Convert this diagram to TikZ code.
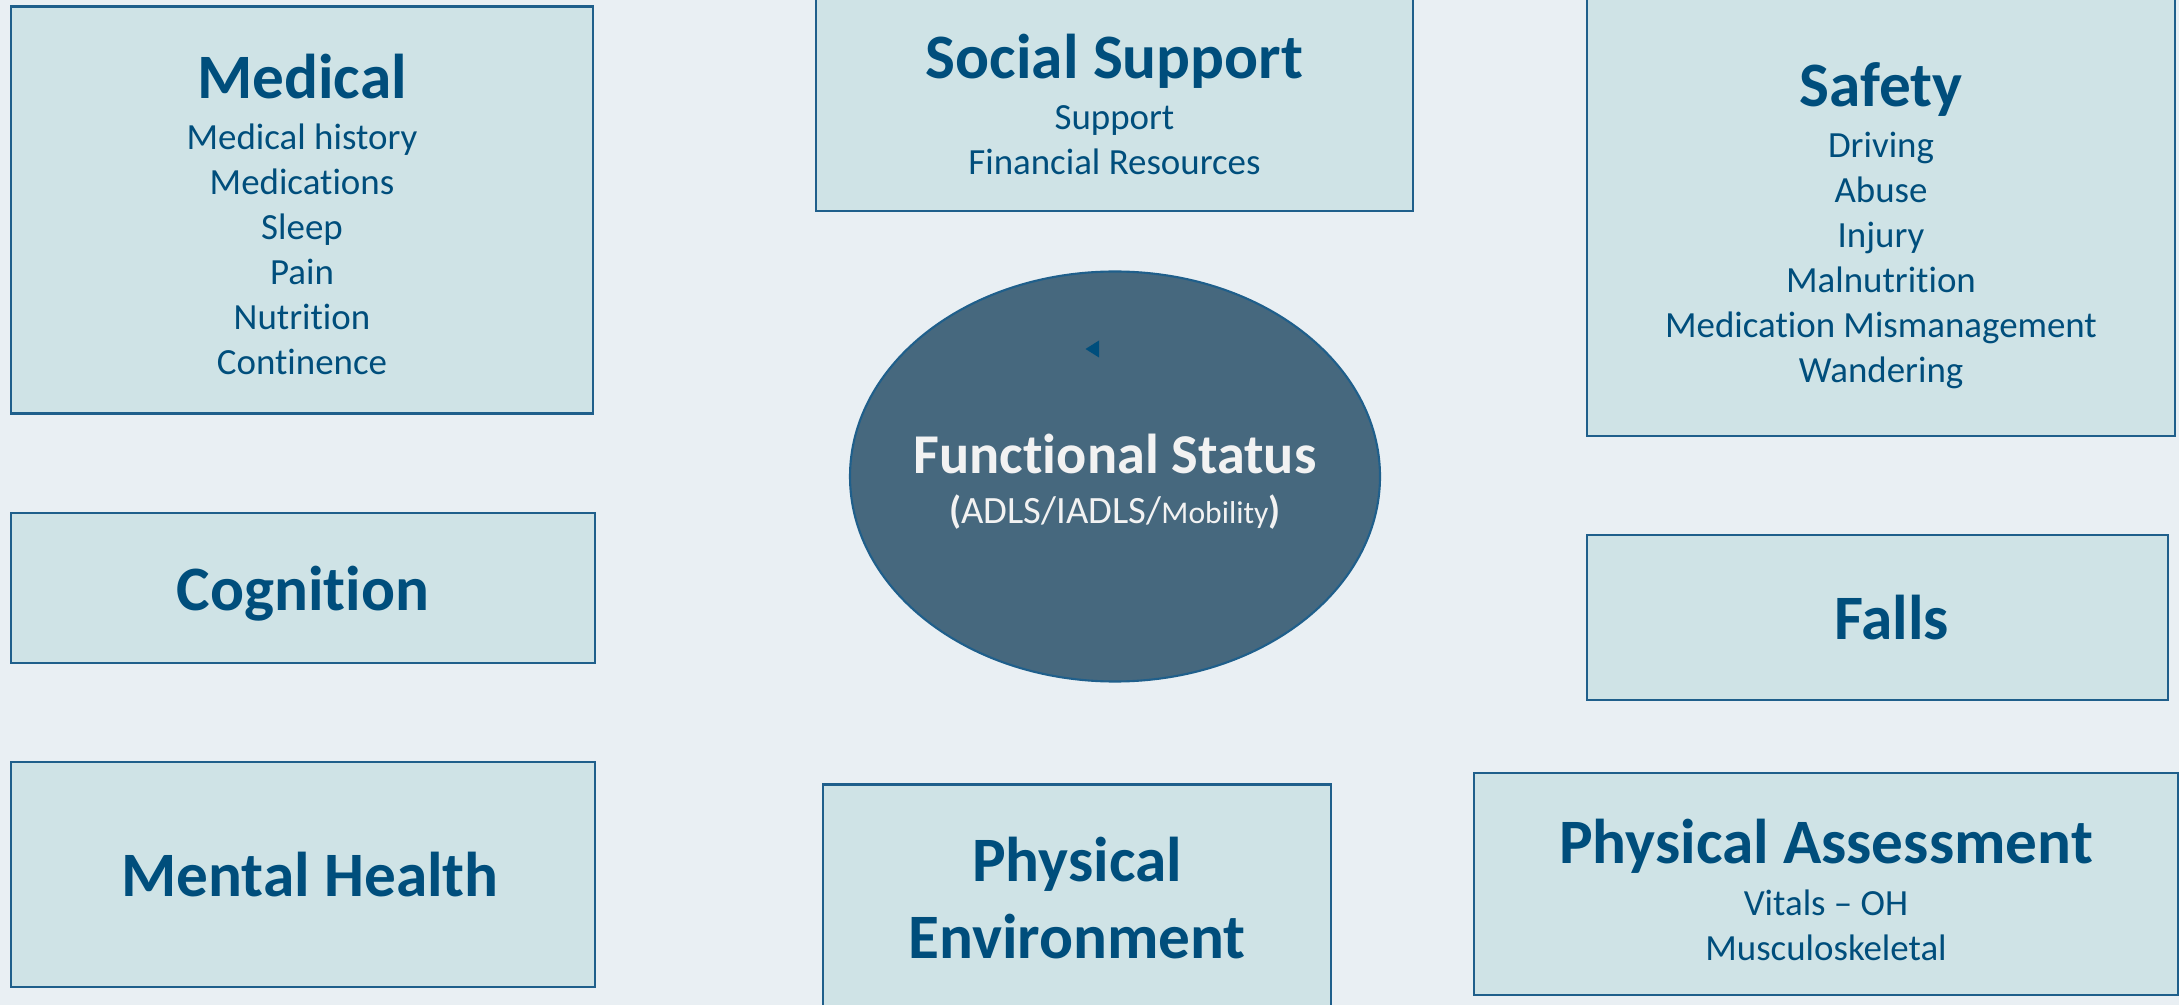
\documentclass[tikz,border=0pt]{standalone}
\usepackage{fontspec}
\setmainfont{Carlito}[Ligatures=NoCommon]
\usetikzlibrary{shapes.geometric}
\definecolor{pagebg}{HTML}{E9EFF3}
\definecolor{boxfill}{HTML}{CFE3E6}
\definecolor{boxline}{HTML}{1F5F8B}
\definecolor{inktext}{HTML}{004E7C}
\definecolor{hubfill}{HTML}{46687E}
\definecolor{hubtext}{HTML}{F2F2F2}
\newcommand\ttl{\fontsize{18}{22}\selectfont\bfseries}
\newcommand\subtxt{\fontsize{10.5}{12.8}\selectfont}
\newcommand\padtop[1]{\rule{0pt}{#1}}
\tikzset{
  topic/.style={draw=boxline, line width=0.6pt, fill=boxfill, text=inktext,
    align=center, inner sep=0pt, font=\subtxt},
  hub/.style={ellipse, draw=boxline, line width=0.6pt, fill=hubfill,
    inner sep=0pt, minimum width=5.3cm, minimum height=4.1cm},
  hublabel/.style={text=hubtext, align=center, inner sep=0pt}
}
\begin{document}
\begin{tikzpicture}
\fill[pagebg] (0,0) rectangle (21.79,-10.05);
\useasboundingbox (0,0) rectangle (21.79,-10.05);
\node[topic, minimum width=5.82cm, minimum height=4.07cm] (medical) at (3.02,-2.10) {{\ttl\padtop{15pt}Medical}\\[1.7pt] Medical history\\ Medications\\ Sleep\\ Pain\\ Nutrition\\ Continence};
\node[topic, minimum width=5.97cm, minimum height=2.14cm] (social) at (11.145,-1.04) {{\ttl Social Support}\\[1.7pt] Support\\ Financial Resources};
\node[topic, minimum width=5.88cm, minimum height=4.40cm] (safety) at (18.81,-2.16) {{\ttl\padtop{18pt}Safety}\\[1.5pt] Driving\\ Abuse\\ Injury\\ Malnutrition\\ Medication Mismanagement\\ Wandering};
\node[topic, minimum width=5.84cm, minimum height=1.50cm, font=\ttl] (cognition) at (3.03,-5.88) {\padtop{16pt}Cognition};
\node[topic, minimum width=5.81cm, minimum height=1.65cm, font=\ttl] (falls) at (18.775,-6.175) {\hspace*{0.28cm}Falls};
\node[topic, minimum width=5.84cm, minimum height=2.25cm, font=\ttl] (mental) at (3.03,-8.745) {\hspace*{0.14cm}Mental Health};
\node[topic, minimum width=5.08cm, minimum height=2.27cm, font=\ttl] (environment) at (10.77,-8.98) {Physical\\ Environment};
\node[topic, minimum width=7.04cm, minimum height=2.22cm] (assessment) at (18.26,-8.84) {{\ttl\padtop{16pt}Physical Assessment}\\[2pt] Vitals -- OH\\ Musculoskeletal};
\node[hub] (status) at (11.15,-4.765) {};
\node[hublabel] (statustext) at (11.15,-4.82) {{\fontsize{16}{19}\selectfont\bfseries Functional Status}\\[2.2pt] {\fontsize{11}{13}\selectfont{\bfseries (}ADLS/IADLS/{\fontsize{9}{10}\selectfont Mobility}{\bfseries )}}};
% small marker inside the hub
\fill[inktext] (10.855,-3.49) -- (10.99,-3.405) -- (10.99,-3.575) -- cycle;
\end{tikzpicture}
\end{document}
